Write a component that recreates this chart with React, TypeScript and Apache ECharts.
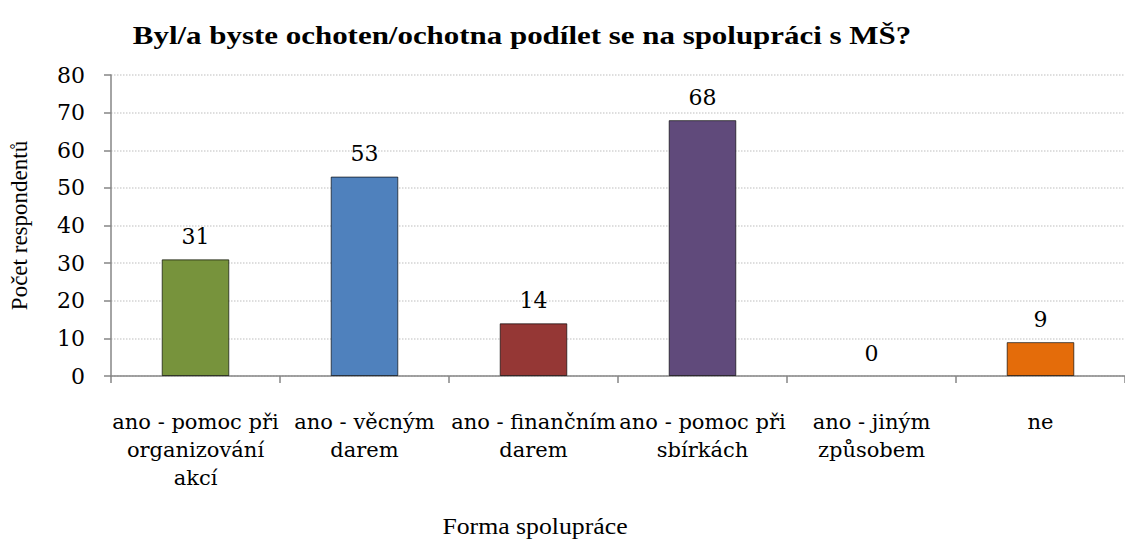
import React, { useEffect, useRef } from "react";
import * as echarts from "echarts";

const titleText = "Byl/a byste ochoten/ochotna podílet se na spolupráci s MŠ?";
const yAxisName = "Počet respondentů";
const xAxisName = "Forma spolupráce";
const categories = [
  "ano - pomoc při\norganizování\nakcí",
  "ano - věcným\ndarem",
  "ano - finančním\ndarem",
  "ano - pomoc při\nsbírkách",
  "ano - jiným\nzpůsobem",
  "ne",
];
const values = [31, 53, 14, 68, 0, 9];
const barColors = ["#77933C", "#4F81BD", "#953735", "#604A7B", "#4BACC6", "#E46C0A"];
const yMin = 0;
const yMax = 80;
const yInterval = 10;

const FONT = "Liberation Serif";
const LABEL_FONT = "DejaVu Serif";

export default function App() {
  const ref = useRef<HTMLDivElement>(null);
  useEffect(() => {
    if (!ref.current) return;
    const chart = echarts.init(ref.current, undefined, { renderer: "svg" });
    chart.setOption({
      animation: false,
      backgroundColor: "#ffffff",
      graphic: [
        {
          type: "text",
          x: 522,
          y: 35,
          scaleX: 1.19,
          style: {
            text: titleText,
            fontFamily: FONT,
            fontSize: 26,
            fontWeight: "bold",
            fontStyle: "normal",
            fill: "#000",
            textAlign: "center",
            textVerticalAlign: "middle",
          },
        },
        {
          type: "text",
          x: 535,
          y: 526,
          scaleX: 1.12,
          style: {
            text: xAxisName,
            fontFamily: FONT,
            fontSize: 23,
            fontWeight: "normal",
            fontStyle: "normal",
            fill: "#000",
            textAlign: "center",
            textVerticalAlign: "middle",
          },
        },
      ],
      grid: { left: 106, right: -9, top: 75, bottom: 164 },
      xAxis: {
        type: "category",
        data: categories,
        axisLine: { lineStyle: { color: "#868686", width: 1.5 } },
        axisTick: { show: true, length: 7, alignWithLabel: false, lineStyle: { color: "#868686", width: 1.5 } },
        axisLabel: {
          interval: 0,
          margin: 32,
          fontFamily: LABEL_FONT,
          fontWeight: "normal",
          fontStyle: "normal",
          fontSize: 21,
          lineHeight: 28,
          color: "#000000",
          align: "center",
        },
      },
      yAxis: {
        type: "value",
        min: yMin,
        max: yMax,
        interval: yInterval,
        name: yAxisName,
        nameLocation: "middle",
        nameGap: 80,
        nameRotate: 90,
        nameTextStyle: { fontFamily: FONT, fontWeight: "normal", fontSize: 23, color: "#000" },
        axisLine: { show: true, lineStyle: { color: "#868686", width: 1.5 } },
        axisTick: { show: true, length: 7, lineStyle: { color: "#868686", width: 1.5 } },
        axisLabel: {
          margin: 26,
          fontFamily: LABEL_FONT,
          fontWeight: "normal",
          fontStyle: "normal",
          fontSize: 22,
          color: "#000000",
        },
        splitLine: { show: true, lineStyle: { color: "#d4d4d4", width: 1.5, type: "dotted" } },
      },
      series: [
        {
          type: "bar",
          data: values.map((v, i) => ({
            value: v,
            itemStyle: {
              color: barColors[i],
              borderColor: "rgba(0,0,0,0.65)",
              borderWidth: v > 0 ? 1 : 0,
            },
          })),
          barWidth: "40%",
          label: {
            show: true,
            position: "top",
            distance: 12,
            fontFamily: LABEL_FONT,
            fontWeight: "normal",
            fontStyle: "normal",
            fontSize: 22,
            color: "#000",
          },
        },
      ],
    });
    return () => chart.dispose();
  }, []);
  return (
    <div
      ref={ref}
      style={{ position: "fixed", left: 0, top: 0, width: 1125, height: 540 }}
    />
  );
}
